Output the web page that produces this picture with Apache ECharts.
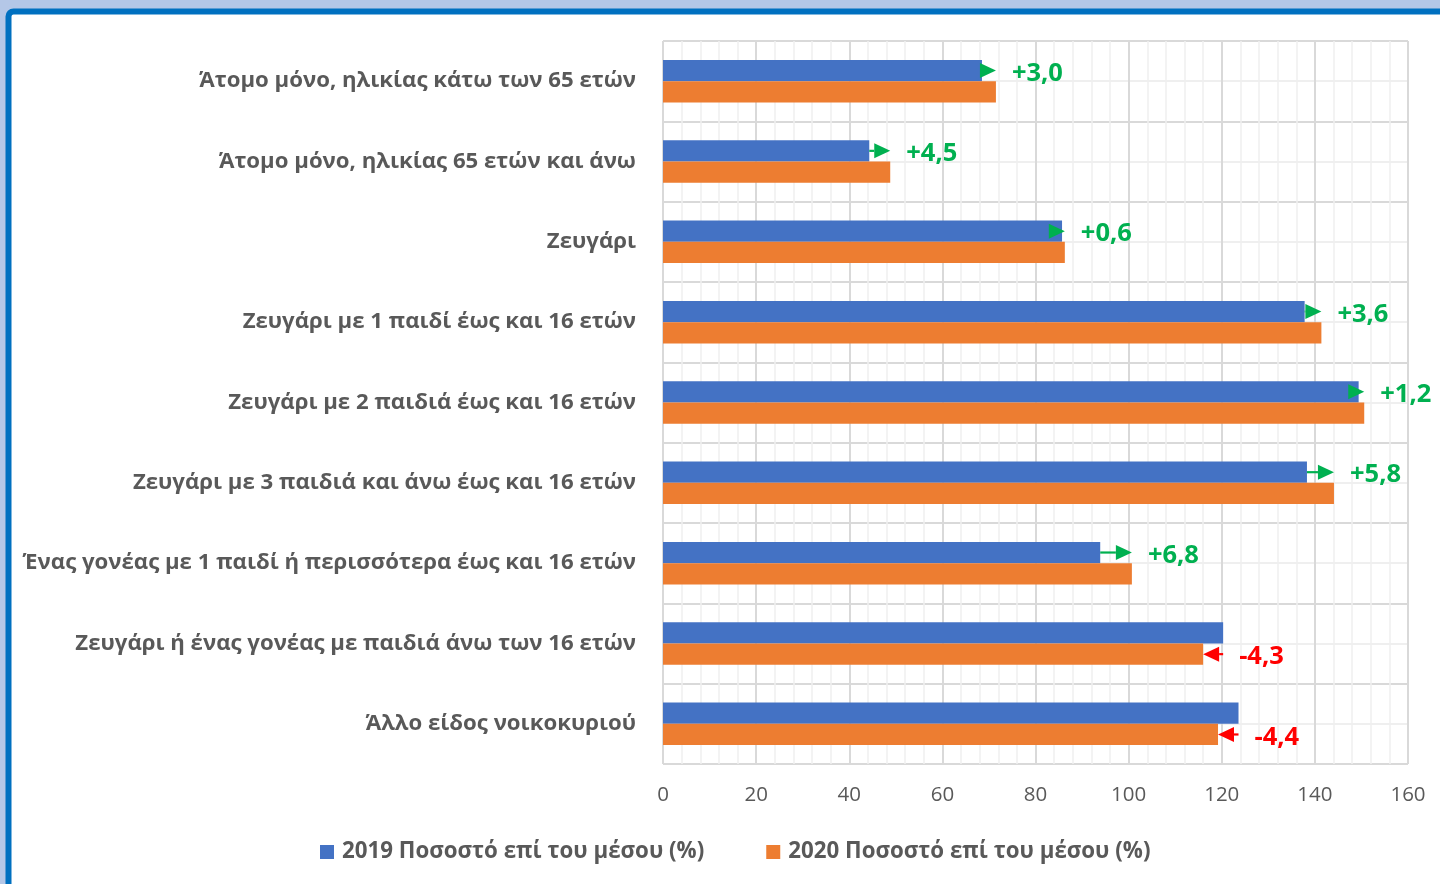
<!DOCTYPE html>
<html>
<head>
<meta charset="utf-8">
<script src="https://cdn.jsdelivr.net/npm/echarts@6/dist/echarts.min.js"></script>
<style>
html,body{margin:0;padding:0;background:#fff;}
#chart{width:1440px;height:884px;}
</style>
</head>
<body>
<div id="chart"></div>
<script>
const categories = [
  'Άτομο μόνο, ηλικίας κάτω των 65 ετών',
  'Άτομο μόνο, ηλικίας 65 ετών και άνω',
  'Ζευγάρι',
  'Ζευγάρι με 1 παιδί έως και 16 ετών',
  'Ζευγάρι με 2 παιδιά έως και 16 ετών',
  'Ζευγάρι με 3 παιδιά και άνω έως και 16 ετών',
  'Ένας γονέας με 1 παιδί ή περισσότερα έως και 16 ετών',
  'Ζευγάρι ή ένας γονέας με παιδιά άνω των 16 ετών',
  'Άλλο είδος νοικοκυριού'
];
const values2019 = [68.5, 44.3, 85.7, 137.8, 149.4, 138.3, 93.9, 120.3, 123.6];
const values2020 = [71.5, 48.8, 86.3, 141.4, 150.6, 144.1, 100.7, 116.0, 119.2];
const changeLabels = ['+3,0', '+4,5', '+0,6', '+3,6', '+1,2', '+5,8', '+6,8', '-4,3', '-4,4'];
const seriesNames = ['2019 Ποσοστό επί του μέσου (%)', '2020 Ποσοστό επί του μέσου (%)'];
const xTicks = { min: 0, max: 160, interval: 20 };

const BLUE = '#4472c4', ORANGE = '#ed7d31', GREEN = '#00b050', RED = '#ff0000';
const CAT_GAP = 0.47;
const FONT = '"Open Sans", "Noto Sans", sans-serif';

const arrowData = categories.map((c, i) => [i, values2019[i], values2020[i]]);

const chart = echarts.init(document.getElementById('chart'), null, { renderer: 'canvas' });
chart.setOption({
  animation: false,
  backgroundColor: '#ffffff',
  graphic: [
    { type: 'rect', z: -10, silent: true, shape: { x: 0, y: 0, width: 1440, height: 884 }, style: { fill: '#b4c7e7' } },
    { type: 'rect', z: -9, silent: true, shape: { x: 8.5, y: 11.5, width: 1500, height: 1000, r: 5 }, style: { fill: '#ffffff', stroke: '#0070c0', lineWidth: 6 } }
  ],
  grid: { left: 663, right: 32, top: 41, bottom: 120, containLabel: false },
  legend: {
    bottom: 16,
    left: 315,
    itemWidth: 14,
    itemHeight: 14,
    itemGap: 62,
    icon: 'rect',
    data: seriesNames,
    textStyle: { fontFamily: FONT, fontSize: 22.3, fontWeight: 'bold', color: '#595959', padding: [0, 0, 0, 3] }
  },
  xAxis: {
    type: 'value',
    min: xTicks.min, max: xTicks.max, interval: xTicks.interval,
    axisLine: { show: false },
    axisTick: { show: false },
    axisLabel: { fontFamily: FONT, fontSize: 20.5, color: '#595959', margin: 21 },
    splitLine: { show: true, lineStyle: { color: '#d9d9d9', width: 2 } },
    minorTick: { show: false, splitNumber: 5 },
    minorSplitLine: { show: true, lineStyle: { color: '#efefef', width: 1.5 } }
  },
  yAxis: [
    {
      type: 'category',
      data: categories,
      inverse: true,
      axisLine: { show: false },
      axisTick: { show: false },
      splitLine: { show: false },
      axisLabel: { fontFamily: FONT, fontSize: 22.2, fontWeight: 'bold', color: '#595959', margin: 27, padding: [8, 0, 0, 0] }
    },
    {
      type: 'value',
      min: 0, max: categories.length * 2, interval: 1,
      position: 'left',
      axisLine: { show: false },
      axisTick: { show: false },
      axisLabel: { show: false },
      splitLine: { show: true, lineStyle: { color: ['#d9d9d9', '#efefef'], width: 2 } }
    }
  ],
  series: [
    {
      name: seriesNames[0], type: 'bar', data: values2019, itemStyle: { color: BLUE },
      barGap: '0%', barCategoryGap: (CAT_GAP * 100) + '%', z: 2
    },
    {
      name: seriesNames[1], type: 'bar', data: values2020, itemStyle: { color: ORANGE },
      barGap: '0%', barCategoryGap: (CAT_GAP * 100) + '%', z: 2
    },
    {
      type: 'custom',
      name: 'change',
      data: arrowData,
      z: 5,
      encode: { y: 0, x: [1, 2] },
      renderItem: function (params, api) {
        const idx = api.value(0);
        const b = api.value(1), o = api.value(2);
        const label = changeLabels[idx];
        const up = o >= b;
        const pB = api.coord([b, idx]);
        const pO = api.coord([o, idx]);
        const band = api.size([0, 1])[1];
        const barW = band * (1 - CAT_GAP) / 2;
        const y = up ? pB[1] - barW / 2 : pB[1] + barW / 2;
        const color = up ? GREEN : RED;
        const dir = up ? 1 : -1;
        const headL = 16, headH = 7.5;
        const tipX = pO[0];
        const baseX = tipX - dir * headL;
        const children = [];
        if ((baseX - pB[0]) * dir > 0) {
          children.push({ type: 'line', shape: { x1: pB[0], y1: y, x2: baseX, y2: y }, style: { stroke: color, lineWidth: 2.2 } });
        }
        children.push({ type: 'polygon', shape: { points: [[tipX, y], [baseX, y - headH], [baseX, y + headH]] }, style: { fill: color } });
        children.push({
          type: 'text',
          style: {
            x: Math.max(pB[0], pO[0]) + 16, y: y + 3,
            text: label, fill: color,
            font: 'bold 25.5px ' + FONT,
            textAlign: 'left', textVerticalAlign: 'middle'
          }
        });
        return { type: 'group', children: children };
      }
    }
  ]
});
</script>
</body>
</html>
